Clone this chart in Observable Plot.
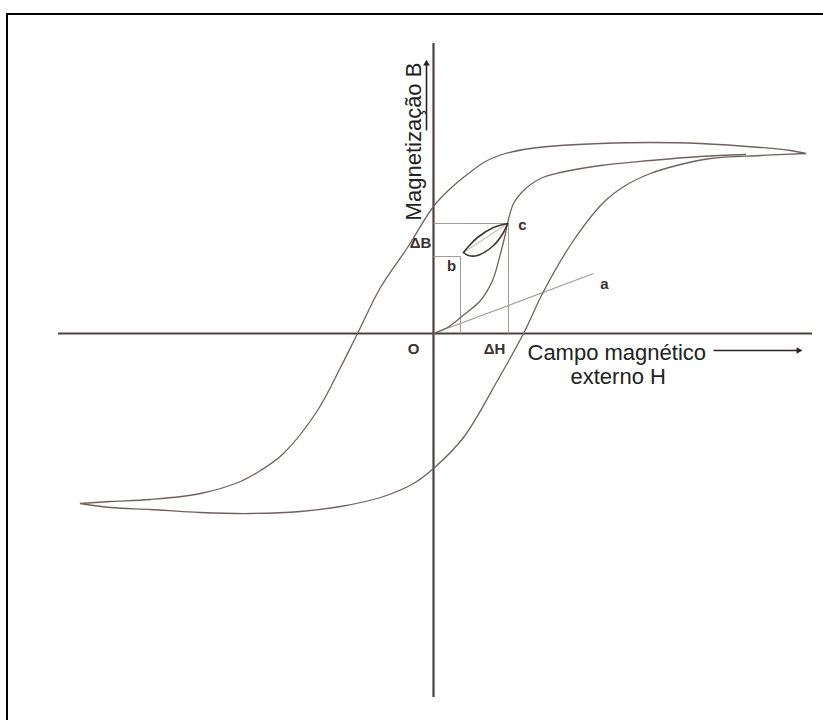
<!DOCTYPE html>
<html>
<head>
<meta charset="utf-8">
<script src="https://cdn.jsdelivr.net/npm/d3@7"></script>
<script src="https://cdn.jsdelivr.net/npm/@observablehq/plot@0.6"></script>
<style>
  html, body { margin: 0; padding: 0; background: #fff; overflow: hidden; }
  svg { display: block; }
</style>
</head>
<body>
<script>
// Hysteresis loop: field H (horizontal) against magnetisation B (vertical)

// Descending branch, from positive saturation to negative saturation
const upperH = [37.2, 35.7, 32.7, 26.7, 21.7, 16.7, 12.7, 9.7, 7.2, 5.2, 3.5, 1.7, 0, -2.6, -5.3, -7.6, -9.3, -11.6, -15.0, -17.3, -19.3, -23.3, -28.3, -32.3, -35.3];
const upperB = [18.0, 18.3, 18.6, 19.0, 19.1, 19.0, 18.8, 18.5, 18.0, 17.2, 16.0, 14.5, 12.7, 8.6, 4.6, 0, -3.4, -7.7, -12.0, -13.7, -14.8, -16.0, -16.6, -16.8, -17.0];

// Ascending branch, from negative saturation back to positive saturation
const lowerH = [-35.3, -32.3, -28.3, -23.3, -18.3, -13.3, -9.3, -5.3, -2.0, 0, 3.0, 6.4, 9.0, 11.0, 14.0, 17.0, 19.2, 21.7, 24.7, 27.7, 32.7, 37.2];
const lowerB = [-17.0, -17.4, -17.6, -17.9, -18.0, -17.8, -17.3, -16.4, -15.0, -13.5, -10.4, -4.7, 0, 4.2, 9.3, 13.1, 14.8, 16.0, 16.9, 17.5, 17.8, 18.0];

// Initial magnetisation curve starting at the origin O
const initH = [0, 1.4, 2.7, 4.7, 5.9, 6.7, 7.2, 7.4, 8.0, 8.9, 10.7, 12.7, 16.7, 21.7, 26.7, 31.2];
const initB = [0, 0.6, 1.6, 3.3, 5.3, 8.0, 10.0, 11.0, 13.0, 14.2, 15.5, 16.1, 16.8, 17.3, 17.7, 17.9];

// Minor loop between points b and c
const minorUpH = [3.0, 3.5, 4.4, 6.0, 7.4];
const minorUpB = [8.1, 8.7, 9.6, 10.6, 11.0];
const minorLowH = [3.0, 3.5, 4.4, 6.0, 7.0, 7.4];
const minorLowB = [8.1, 7.8, 7.8, 8.8, 10.1, 11.0];

// Point b, point c, and the straight line towards a
const pointB = {H: 3.0, B: 8.1};
const pointC = {H: 7.5, B: 11.0};
const lineA = {H1: 0, B1: 0, H2: 16.0, B2: 6.0};

// Axis extents
const axisH = [-37.5, 37.9];
const axisB = [-36.4, 29.0];

// Letter labels
const labelText = ["c", "b", "a", "ΔB", "ΔH", "O"];
const labelH = [8.9, 1.8, 17.1, -1.3, 6.1, -2.0];
const labelB = [10.8, 6.7, 4.9, 9.0, -1.6, -1.6];

// Axis titles and their arrows
const titleB = {text: "Magnetização B", H: -2.0, B: 19.2};
const titleH1 = {text: "Campo magnético", H: 9.4, B: -1.9};
const titleH2 = {text: "externo H", H: 13.7, B: -4.3};
const arrowB = {H1: -0.7, B1: 20.3, H2: -0.7, B2: 27.0};
const arrowH = {H1: 28.0, B1: -1.7, H2: 36.5, B2: -1.7};

const pts = (hs, bs) => hs.map((h, i) => ({H: h, B: bs[i]}));
const upper = pts(upperH, upperB);
const lower = pts(lowerH, lowerB);
const initial = pts(initH, initB);
const minorUp = pts(minorUpH, minorUpB);
const minorLow = pts(minorLowH, minorLowB);
const labels = labelText.map((t, i) => ({t, H: labelH[i], B: labelB[i]}));

const curveColor = "#6f625e";
const axisColor = "#4a4240";
const guideColor = "#a59a95";
const textColor = "#222";
const labelColor = "#3b302d";

const chart = Plot.plot({
  width: 823,
  height: 720,
  margin: 0,
  style: {fontFamily: "'Liberation Sans', Arial, sans-serif", background: "#fff"},
  x: {domain: [-43.3, 39.0], axis: null},
  y: {domain: [-38.7, 33.3], axis: null},
  marks: [
    // axes through the origin
    Plot.ruleY([0], {x1: axisH[0], x2: axisH[1], stroke: axisColor, strokeWidth: 2.2}),
    Plot.ruleX([0], {y1: axisB[0], y2: axisB[1], stroke: axisColor, strokeWidth: 2.2}),
    // ΔB / ΔH construction lines
    Plot.link([pointC], {x1: 0, y1: "B", x2: "H", y2: "B", stroke: guideColor, strokeWidth: 1}),
    Plot.link([pointC], {x1: "H", y1: "B", x2: "H", y2: 0, stroke: guideColor, strokeWidth: 1}),
    Plot.link([{H: 2.7, B: 7.7}], {x1: 0, y1: "B", x2: "H", y2: "B", stroke: guideColor, strokeWidth: 1}),
    Plot.link([{H: 2.7, B: 7.7}], {x1: "H", y1: "B", x2: "H", y2: 0, stroke: guideColor, strokeWidth: 1}),
    // straight line O–a
    Plot.link([lineA], {x1: "H1", y1: "B1", x2: "H2", y2: "B2", stroke: guideColor, strokeWidth: 1.1}),
    // chord of the minor loop
    Plot.link([{H1: pointB.H, B1: pointB.B, H2: 7.4, B2: 11.0}], {x1: "H1", y1: "B1", x2: "H2", y2: "B2", stroke: "#b8aeaa", strokeWidth: 1}),
    // hysteresis loop
    Plot.line(upper, {x: "H", y: "B", curve: "catmull-rom", stroke: curveColor, strokeWidth: 1.3}),
    Plot.line(lower, {x: "H", y: "B", curve: "catmull-rom", stroke: curveColor, strokeWidth: 1.3}),
    Plot.line(initial, {x: "H", y: "B", curve: "catmull-rom", stroke: curveColor, strokeWidth: 1.3}),
    // minor loop b–c
    Plot.line(minorUp, {x: "H", y: "B", curve: "catmull-rom", stroke: "#3f3532", strokeWidth: 1.6}),
    Plot.line(minorLow, {x: "H", y: "B", curve: "catmull-rom", stroke: "#3f3532", strokeWidth: 1.6}),
    // point labels
    Plot.text(labels, {x: "H", y: "B", text: "t", fontSize: 15, fontWeight: "bold", fill: labelColor}),
    // axis titles
    Plot.text([titleB], {x: "H", y: "B", text: "text", rotate: -90, fontSize: 22, fill: textColor}),
    Plot.text([titleH1], {x: "H", y: "B", text: "text", textAnchor: "start", fontSize: 22, fill: textColor}),
    Plot.text([titleH2], {x: "H", y: "B", text: "text", textAnchor: "start", fontSize: 22, fill: textColor}),
    // arrows next to the titles
    Plot.link([arrowB, arrowH], {x1: "H1", y1: "B1", x2: "H2", y2: "B2", stroke: "#2a2222", strokeWidth: 1.6}),
    Plot.dot([arrowB], {x: "H2", y: "B2", symbol: "triangle2", r: 3.2, fill: "#2a2222", rotate: 0}),
    Plot.dot([arrowH], {x: "H2", y: "B2", symbol: "triangle2", r: 3.2, fill: "#2a2222", rotate: 90})
  ]
});

// open black frame along the left and top edges of the figure
d3.select(chart).append("path")
  .attr("d", "M7,720V14H823")
  .attr("fill", "none")
  .attr("stroke", "#000")
  .attr("stroke-width", 2);

document.body.appendChild(chart);
</script>
</body>
</html>
